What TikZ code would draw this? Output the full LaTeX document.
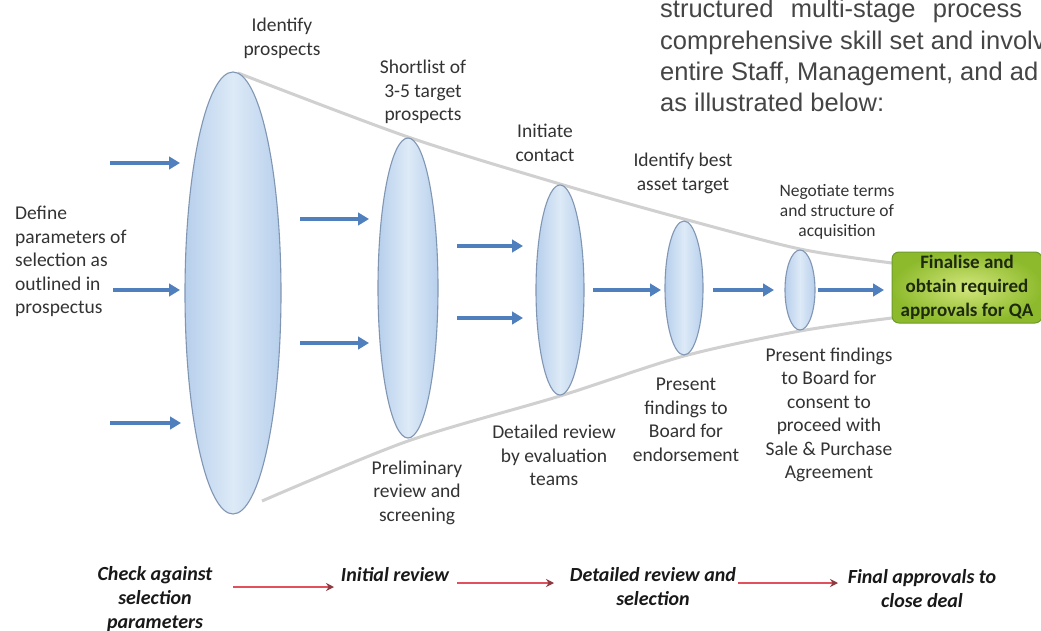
\documentclass[tikz,border=0pt]{standalone}
\usepackage{fontspec}
\setmainfont{Carlito}
\newfontfamily\arialf{Liberation Sans}
\usetikzlibrary{arrows.meta,shapes.geometric}

\definecolor{ellmid}{HTML}{DDEAF7}
\definecolor{ellside}{HTML}{B7CFEC}
\definecolor{elledge}{HTML}{8196B3}
\definecolor{bluearrow}{HTML}{4F7FBC}
\definecolor{redarrow}{HTML}{E2505C}
\definecolor{redtip}{HTML}{8A3A40}
\definecolor{funnelgray}{HTML}{D0D0D0}
\definecolor{labelgray}{HTML}{333333}
\definecolor{paragray}{HTML}{454545}
\definecolor{greenin}{HTML}{D3E67C}
\definecolor{greenout}{HTML}{8DBA2C}
\definecolor{greenedge}{HTML}{6E9A2A}
\definecolor{greentext}{HTML}{1E2A0C}

\begin{document}
\begin{tikzpicture}[x=1pt,y=-1pt,
  lens/.style={ellipse, draw=elledge, line width=1.1pt, left color=ellside,
    right color=ellside, middle color=ellmid, inner sep=0pt},
  lbl/.style={align=center, inner sep=0pt, text=labelgray,
    font=\fontsize{19.5}{23.5}\selectfont},
  smalllbl/.style={align=center, inner sep=0pt, text=labelgray,
    font=\fontsize{17.5}{20}\selectfont},
  bl/.style={align=center, inner sep=0pt, text=black!90,
    font=\bfseries\itshape\fontsize{20}{24}\selectfont},
  para/.style={anchor=base west, inner sep=0pt, text=paragray,
    font=\arialf\fontsize{25.5}{31}\selectfont},
  gbox/.style={rectangle, rounded corners=7pt, draw=greenedge, line width=1pt,
    inner color=greenin, outer color=greenout, minimum width=150pt,
    minimum height=71pt, align=center, inner sep=0pt, text=greentext,
    font=\bfseries\fontsize{19}{24}\selectfont},
  barrow/.style={draw=bluearrow, line width=4.8pt, -{Triangle[length=11pt,width=12.5pt]}},
  rarrow/.style={draw=redarrow, line width=2.8pt, -{Stealth[length=8pt,width=8pt,color=redtip]}},
  funnel/.style={draw=funnelgray, line width=3pt}
]
\useasboundingbox (0,0) rectangle (1041,631);
\clip (0,0) rectangle (1041,631);
\fill[white] (0,0) rectangle (1041,631);

% paragraph text (top right)
\node[para] (p1) at (660,18) {\makebox[362pt][s]{structured multi-stage process}};
\node[para] (p2) at (660,50) {comprehensive skill set and involv};
\node[para] (p3) at (660,81) {entire Staff, Management, and ad};
\node[para] (p4) at (660,112) {as illustrated below:};

% funnel outline
\draw[funnel] plot[smooth, tension=0.5] coordinates {(238,73) (408,137) (560,184) (684,219) (800,249) (892,263)};
\draw[funnel] plot[smooth, tension=0.5] coordinates {(262,501) (408,441) (560,396) (684,356) (800,331) (892,318)};

% lenses
\node[lens, minimum width=96pt, minimum height=442pt] (e1) at (233,293) {};
\node[lens, minimum width=60pt, minimum height=300pt] (e2) at (408,288) {};
\node[lens, minimum width=48pt, minimum height=210pt] (e3) at (560,290) {};
\node[lens, minimum width=38pt, minimum height=134pt] (e4) at (684,288) {};
\node[lens, minimum width=30pt, minimum height=80pt] (e5) at (800,290) {};

% final box
\node[gbox] (qa) at (967,287.5) {Finalise and\\obtain required\\approvals for QA};

% labels
\node[lbl, align=left, anchor=west] (define) at (15,261.5) {Define\\parameters of\\selection as\\outlined in\\prospectus};
\node[lbl] (l1) at (282,38.5) {Identify\\prospects};
\node[lbl] (l2) at (423,92) {Shortlist of\\3-5 target\\prospects};
\node[lbl] (l3) at (545,143) {Initiate\\contact};
\node[lbl] (l4) at (683,173.5) {Identify best\\asset target};
\node[smalllbl] (l5) at (837,212) {Negotiate terms\\and structure of\\acquisition};
\node[lbl] (d2) at (417,492.5) {Preliminary\\review and\\screening};
\node[lbl] (d3) at (554,455.5) {Detailed review\\by evaluation\\teams};
\node[lbl] (d4) at (686,420) {Present\\findings to\\Board for\\endorsement};
\node[lbl] (d5) at (829,415) {Present findings\\to Board for\\consent to\\proceed with\\Sale \& Purchase\\Agreement};

% blue arrows
\coordinate (a1s) at (110,163); \coordinate (a1e) at (180,163);
\coordinate (a2s) at (113,290); \coordinate (a2e) at (180,290);
\coordinate (a3s) at (110,423); \coordinate (a3e) at (181,423);
\coordinate (a4s) at (300,219); \coordinate (a4e) at (369,219);
\coordinate (a5s) at (300,343); \coordinate (a5e) at (369,343);
\coordinate (a6s) at (457,246); \coordinate (a6e) at (523,246);
\coordinate (a7s) at (457,318); \coordinate (a7e) at (523,318);
\coordinate (a8s) at (593,290); \coordinate (a8e) at (661,290);
\coordinate (a9s) at (713,290); \coordinate (a9e) at (774,290);
\coordinate (a10s) at (818,290); \coordinate (a10e) at (884,290);
\draw[barrow] (a1s) -- (a1e);
\draw[barrow] (a2s) -- (a2e);
\draw[barrow] (a3s) -- (a3e);
\draw[barrow] (a4s) -- (a4e);
\draw[barrow] (a5s) -- (a5e);
\draw[barrow] (a6s) -- (a6e);
\draw[barrow] (a7s) -- (a7e);
\draw[barrow] (a8s) -- (a8e);
\draw[barrow] (a9s) -- (a9e);
\draw[barrow] (a10s) -- (a10e);

% bottom stages
\node[bl] (b1) at (155,599) {Check against\\selection\\parameters};
\node[bl] (b2) at (395,575) {Initial review};
\node[bl] (b3) at (653,586.5) {Detailed review and\\selection};
\node[bl] (b4) at (922,588.5) {Final approvals to\\close deal};
\coordinate (r1s) at (233,587); \coordinate (r1e) at (334,587);
\coordinate (r2s) at (457,583); \coordinate (r2e) at (554,583);
\coordinate (r3s) at (738,583); \coordinate (r3e) at (838,583);
\draw[rarrow] (r1s) -- (r1e);
\draw[rarrow] (r2s) -- (r2e);
\draw[rarrow] (r3s) -- (r3e);
\end{tikzpicture}
\end{document}
